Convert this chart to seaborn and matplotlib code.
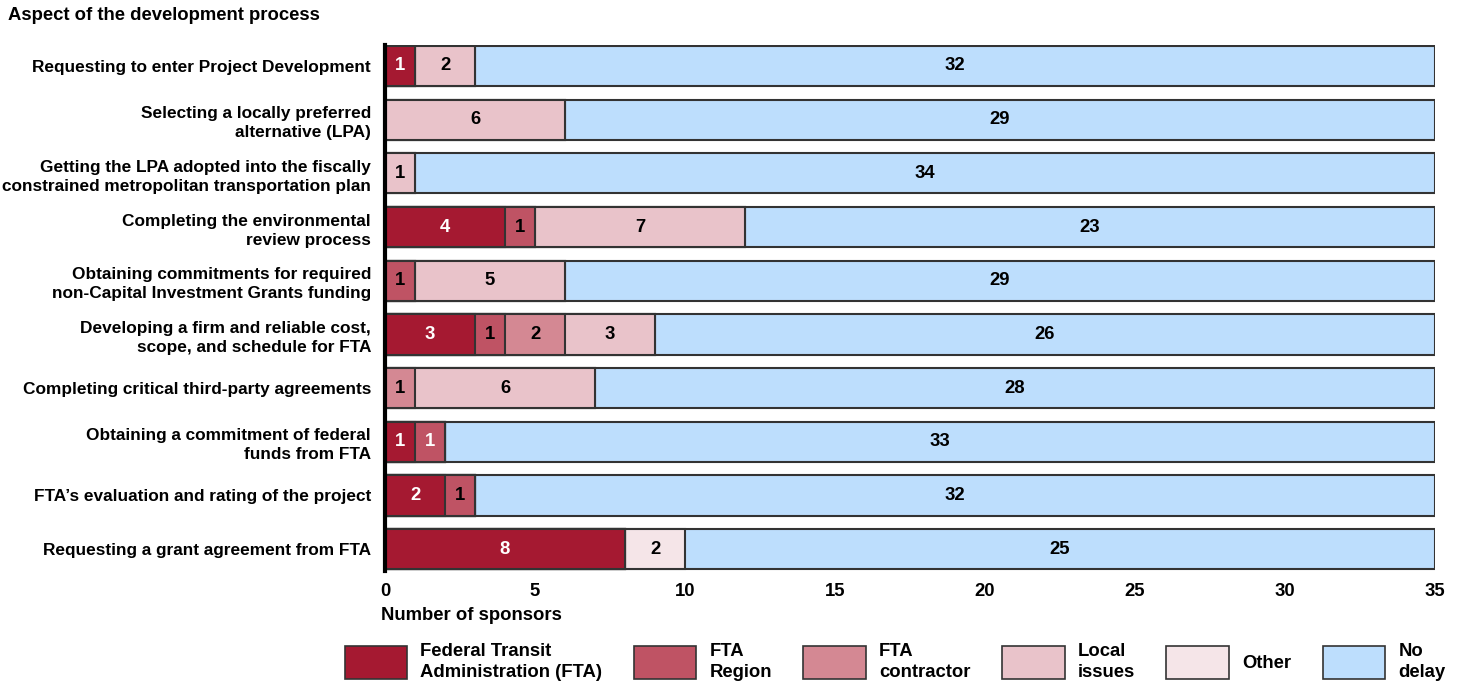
import numpy as np
import pandas as pd
import seaborn as sns
import matplotlib.pyplot as plt
from matplotlib.patches import Patch

aspects = ["Requesting to enter Project Development",
           "Selecting a locally preferred\nalternative (LPA)",
           "Getting the LPA adopted into the fiscally\nconstrained metropolitan transportation plan",
           "Completing the environmental\nreview process",
           "Obtaining commitments for required\nnon-Capital Investment Grants funding",
           "Developing a firm and reliable cost,\nscope, and schedule for FTA",
           "Completing critical third-party agreements",
           "Obtaining a commitment of federal\nfunds from FTA",
           "FTA\u2019s evaluation and rating of the project",
           "Requesting a grant agreement from FTA"]

fta = [1, 0, 0, 4, 0, 3, 0, 1, 2, 8]
fta_region = [0, 0, 0, 1, 1, 1, 0, 1, 1, 0]
fta_contractor = [0, 0, 0, 0, 0, 2, 1, 0, 0, 0]
local_issues = [2, 6, 1, 7, 5, 3, 6, 0, 0, 0]
other = [0, 0, 0, 0, 0, 0, 0, 0, 0, 2]
no_delay = [32, 29, 34, 23, 29, 26, 28, 33, 32, 25]

series_names = ["Federal Transit\nAdministration (FTA)", "FTA\nRegion", "FTA\ncontractor",
                "Local\nissues", "Other", "No\ndelay"]
series = [fta, fta_region, fta_contractor, local_issues, other, no_delay]
colors = ["#A51931", "#BF5364", "#D48893", "#E9C3CA", "#F5E5E8", "#BDDEFD"]
text_colors = ["white", "black", "black", "black", "black", "black"]

sns.set_style("white")
plt.rcParams["font.family"] = ["Liberation Sans", "DejaVu Sans"]
plt.rcParams["font.weight"] = "bold"
plt.rcParams["text.color"] = "black"
plt.rcParams["xtick.color"] = "black"
plt.rcParams["ytick.color"] = "black"

fs = 13.3
fs_y = 12.4

fig = plt.figure(figsize=(14.6, 6.85), dpi=100)
ax = fig.add_axes([0.2637, 0.167, 0.7192, 0.768])

df = pd.DataFrame({"aspect": aspects})
cum = np.zeros(len(aspects))
cums = []
for s in series:
    cum = cum + np.array(s)
    cums.append(cum.copy())

# draw cumulative bars from the longest down so the segments stack
for i in range(len(series) - 1, -1, -1):
    df["value"] = cums[i]
    sns.barplot(data=df, x="value", y="aspect", orient="h", color=colors[i],
                saturation=1, width=0.75, edgecolor="#333333", linewidth=1.5, ax=ax)

for i, s in enumerate(series):
    starts = cums[i] - np.array(s)
    for j, v in enumerate(s):
        if v == 0:
            continue
        c = text_colors[i]
        if i == 1 and j == 7:
            c = "white"
        ax.text(starts[j] + v / 2, j, str(v), ha="center", va="center",
                fontsize=fs, fontweight="bold", color=c)

ax.set_xlim(0, 35)
ax.set_ylim(9.4, -0.4)
ax.set_xticks(range(0, 36, 5))
ax.set_xlabel("")
ax.set_ylabel("")
ax.tick_params(axis="both", length=0, colors="black")
ax.tick_params(axis="x", pad=9, labelsize=fs)
ax.tick_params(axis="y", pad=10, labelsize=fs_y)
for lab in ax.get_xticklabels():
    lab.set_fontweight("bold")
for lab in ax.get_yticklabels():
    lab.set_fontweight("bold")
    lab.set_linespacing(1.35)
for side in ["top", "right", "bottom"]:
    ax.spines[side].set_visible(False)
ax.spines["left"].set_linewidth(3)
ax.spines["left"].set_color("black")

fig.text(0.0055, 1 - 16 / 685, "Aspect of the development process",
         ha="left", va="center", fontsize=fs, fontweight="bold")
fig.text(381 / 1460, 1 - 615 / 685, "Number of sponsors",
         ha="left", va="center", fontsize=fs, fontweight="bold")

handles = [Patch(facecolor=c, edgecolor="#333333", linewidth=1.2) for c in colors]
leg = fig.legend(handles, series_names, loc="center", bbox_to_anchor=(0.613, 0.034),
                 ncol=6, frameon=False, handlelength=3.4, handleheight=2.38,
                 handletextpad=0.7, columnspacing=1.7, prop={"weight": "bold", "size": fs})
for t in leg.get_texts():
    t.set_linespacing(1.3)

fig.savefig("out.png", dpi=100)
